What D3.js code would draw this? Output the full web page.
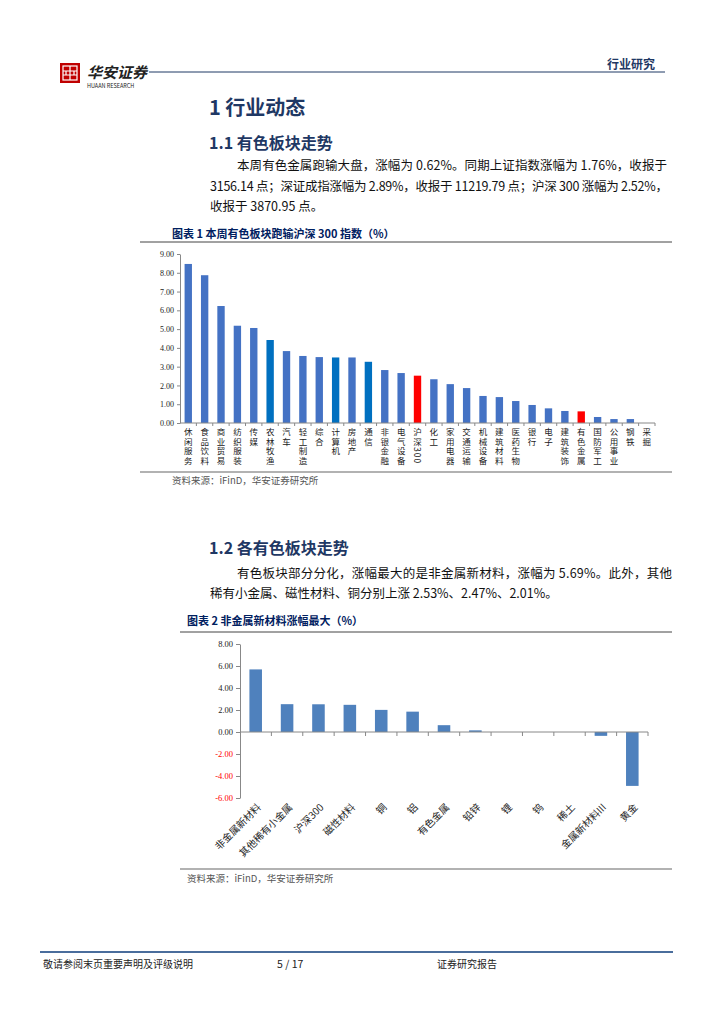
<!DOCTYPE html>
<html>
<head>
<meta charset="utf-8">
<script src="https://cdn.jsdelivr.net/npm/d3@7"></script>
<style>
  body { margin: 0; background: #fff; }
  svg { display: block; }
  text { font-family: "Noto Sans CJK SC", "Liberation Sans", sans-serif; }
  .num { font-family: "Liberation Serif", serif; }
  .vlabel { writing-mode: vertical-rl; letter-spacing: 1px; }
</style>
</head>
<body>
<div id="page"></div>
<script>
// chart 1: weekly change by industry (%)
var industries = ["休闲服务", "食品饮料", "商业贸易", "纺织服装", "传媒", "农林牧渔", "汽车", "轻工制造",
    "综合", "计算机", "房地产", "通信", "非银金融", "电气设备", "沪深300", "化工", "家用电器",
    "交通运输", "机械设备", "建筑材料", "医药生物", "银行", "电子", "建筑装饰", "有色金属",
    "国防军工", "公用事业", "钢铁", "采掘"]
var industryChange = [8.47, 7.87, 6.23, 5.18, 5.06, 4.42, 3.83, 3.57, 3.51, 3.49, 3.49, 3.26, 2.82,
    2.66, 2.52, 2.33, 2.07, 1.86, 1.44, 1.38, 1.17, 0.96, 0.78, 0.64, 0.62, 0.32, 0.21, 0.21, 0.00]
var darkBars = ["农林牧渔", "计算机", "通信"]
var redBars = ["沪深300", "有色金属"]
var ticks1 = [0, 1, 2, 3, 4, 5, 6, 7, 8, 9]

// chart 2: non-ferrous sub-sectors (%)
var subSectors = ["非金属新材料", "其他稀有小金属", "沪深300", "磁性材料", "铜", "铝", "有色金属",
    "铅锌", "锂", "钨", "稀土", "金属新材料III", "黄金"]
var subChange = [5.69, 2.53, 2.52, 2.47, 2.01, 1.85, 0.62, 0.15, 0.00, 0.00, 0.00, -0.35, -4.90]
var ticks2 = [8, 6, 4, 2, 0, -2, -4, -6]

var width = 724, height = 1024
var navy = "#1F3864"

var svg = d3.select("#page").append("svg")
    .attr("width", width)
    .attr("height", height)

// ---- header ----
var logo = svg.append("g").attr("transform", "translate(60,63)")
logo.append("rect").attr("width", 20).attr("height", 20).attr("fill", "#C00000")
logo.append("rect").attr("x", 3).attr("y", 3).attr("width", 14).attr("height", 14)
    .attr("fill", "none").attr("stroke", "#fff").attr("stroke-width", 1.2)
logo.append("path").attr("d", "M10,3V17M3,8H17M3,12H17M6,8V12M14,8V12")
    .attr("stroke", "#fff").attr("stroke-width", 1.2).attr("fill", "none")
svg.append("text").attr("x", 87).attr("y", 78).attr("font-size", 15).attr("font-weight", 700)
    .attr("fill", "#222").attr("font-style", "italic").text("华安证券")
svg.append("text").attr("x", 87).attr("y", 88).attr("font-size", 5.5)
    .attr("font-family", "Liberation Serif").attr("fill", "#222").text("HUAAN RESEARCH")
svg.append("line").attr("x1", 149).attr("x2", 665).attr("y1", 72).attr("y2", 72)
    .attr("stroke", navy).attr("stroke-width", 1)
svg.append("text").attr("x", 655).attr("y", 69).attr("text-anchor", "end")
    .attr("font-size", 12).attr("font-weight", 700).attr("fill", navy).text("行业研究")

// ---- headings & paragraphs ----
function heading(txt, y, size) {
    svg.append("text").attr("x", 209).attr("y", y).attr("font-size", size)
        .attr("font-weight", 700).attr("fill", navy).text(txt)
}
heading("1 行业动态", 115, 20)
heading("1.1 有色板块走势", 149, 16)
heading("1.2 各有色板块走势", 554, 16)

function para(txt, x, y, w) {
    var t = svg.append("text").attr("x", x).attr("y", y).attr("font-size", 12.5)
        .attr("fill", "#111").text(txt)
    if (w) t.attr("textLength", w).attr("lengthAdjust", "spacing")
}
para("本周有色金属跑输大盘，涨幅为 0.62%。同期上证指数涨幅为 1.76%，收报于", 237, 170, 430)
para("3156.14 点；深证成指涨幅为 2.89%，收报于 11219.79 点；沪深 300 涨幅为 2.52%，", 210, 191, 458)
para("收报于 3870.95 点。", 210, 211)
para("有色板块部分分化，涨幅最大的是非金属新材料，涨幅为 5.69%。此外，其他", 237, 578, 435)
para("稀有小金属、磁性材料、铜分别上涨 2.53%、2.47%、2.01%。", 210, 598)

// ---- chart 1 ----
svg.append("text").attr("x", 172).attr("y", 238).attr("font-size", 11).attr("font-weight", 700)
    .attr("fill", "#002060").text("图表 1 本周有色板块跑输沪深 300 指数（%）")
svg.append("line").attr("x1", 140).attr("x2", 672).attr("y1", 242).attr("y2", 242)
    .attr("stroke", "#444").attr("stroke-width", 1)

var x1 = d3.scaleBand().domain(industries).range([180, 655]).paddingInner(0.55).paddingOuter(0.28)
var y1 = d3.scaleLinear().domain([0, 9]).range([423, 254])

var g1 = svg.append("g")
g1.selectAll(".bar1").data(industries).enter().append("rect")
    .attr("class", "bar1")
    .attr("x", function (d) { return x1(d) })
    .attr("width", x1.bandwidth())
    .attr("y", function (d, i) { return y1(industryChange[i]) })
    .attr("height", function (d, i) { return y1(0) - y1(industryChange[i]) })
    .attr("fill", function (d) {
        if (redBars.indexOf(d) >= 0) return "#FF0000"
        if (darkBars.indexOf(d) >= 0) return "#0070C0"
        return "#4472C4"
    })

var yAxis1 = d3.axisLeft(y1).tickValues(ticks1).tickFormat(d3.format(".2f")).tickSize(3).tickSizeOuter(0)
g1.append("g").attr("transform", "translate(180,0)").call(yAxis1)
    .call(function (a) {
        a.select(".domain").attr("stroke", "#888")
        a.selectAll(".tick line").attr("stroke", "#888")
        a.selectAll(".tick text").attr("class", "num").attr("font-size", 8).attr("fill", "#222")
    })

// x axis line with ticks at band edges
g1.append("line").attr("x1", 180).attr("x2", 655).attr("y1", y1(0)).attr("y2", y1(0))
    .attr("stroke", "#888")
industries.forEach(function (d, i) {
    var bx = 180 + (i + 1) * ((655 - 180) / industries.length)
    g1.append("line").attr("x1", bx).attr("x2", bx).attr("y1", y1(0)).attr("y2", y1(0) + 3)
        .attr("stroke", "#888")
})

// vertical labels
g1.selectAll(".vlabel").data(industries).enter().append("text")
    .attr("class", "vlabel")
    .attr("x", function (d) { return x1(d) + x1.bandwidth() / 2 })
    .attr("y", 428)
    .attr("font-size", 8.5)
    .attr("fill", "#222")
    .text(function (d) { return d })

svg.append("line").attr("x1", 140).attr("x2", 672).attr("y1", 472).attr("y2", 472)
    .attr("stroke", "#999").attr("stroke-width", 1.5)
svg.append("text").attr("x", 172).attr("y", 484).attr("font-size", 9.5).attr("fill", "#555")
    .text("资料来源：iFinD，华安证券研究所")

// ---- chart 2 ----
svg.append("text").attr("x", 187).attr("y", 625).attr("font-size", 11).attr("font-weight", 700)
    .attr("fill", "#002060").text("图表 2 非金属新材料涨幅最大（%）")
svg.append("line").attr("x1", 180).attr("x2", 672).attr("y1", 632).attr("y2", 632)
    .attr("stroke", "#444").attr("stroke-width", 1)

var x2 = d3.scaleBand().domain(subSectors).range([240, 648]).paddingInner(0.6).paddingOuter(0.3)
var y2 = d3.scaleLinear().domain([-6, 8]).range([798, 644])

var g2 = svg.append("g")
g2.selectAll(".bar2").data(subSectors).enter().append("rect")
    .attr("class", "bar2")
    .attr("x", function (d) { return x2(d) })
    .attr("width", x2.bandwidth())
    .attr("y", function (d, i) { return y2(Math.max(0, subChange[i])) })
    .attr("height", function (d, i) { return Math.abs(y2(subChange[i]) - y2(0)) })
    .attr("fill", "#4F81BD")

var yAxis2 = d3.axisLeft(y2).tickValues(ticks2).tickFormat(d3.format(".2f")).tickSize(4).tickSizeOuter(0)
g2.append("g").attr("transform", "translate(240,0)").call(yAxis2)
    .call(function (a) {
        a.select(".domain").attr("stroke", "#888")
        a.selectAll(".tick line").attr("stroke", "#888")
        a.selectAll(".tick text").attr("class", "num").attr("font-size", 8.5)
            .attr("fill", function (d) { return d < 0 ? "#FF0000" : "#222" })
            .text(function (d) { return d3.format(".2f")(d).replace("−", "-") })
    })

g2.append("line").attr("x1", 240).attr("x2", 648).attr("y1", y2(0)).attr("y2", y2(0))
    .attr("stroke", "#888")
subSectors.forEach(function (d, i) {
    var bx = 240 + (i + 1) * ((648 - 240) / subSectors.length)
    g2.append("line").attr("x1", bx).attr("x2", bx).attr("y1", y2(0)).attr("y2", y2(0) + 4)
        .attr("stroke", "#888")
})

subSectors.forEach(function (d) {
    var cx = x2(d) + x2.bandwidth() / 2
    g2.append("text")
        .attr("transform", "translate(" + (cx + 6) + ",808) rotate(-45)")
        .attr("text-anchor", "end")
        .attr("font-size", 10).attr("fill", "#222").text(d)
})

svg.append("line").attr("x1", 180).attr("x2", 672).attr("y1", 869).attr("y2", 869)
    .attr("stroke", "#999").attr("stroke-width", 1.5)
svg.append("text").attr("x", 187).attr("y", 882).attr("font-size", 9.5).attr("fill", "#555")
    .text("资料来源：iFinD，华安证券研究所")

// ---- footer ----
svg.append("line").attr("x1", 40).attr("x2", 673).attr("y1", 952).attr("y2", 952)
    .attr("stroke", "#4A6D9C").attr("stroke-width", 2)
svg.append("text").attr("x", 43).attr("y", 968).attr("font-size", 10).attr("fill", "#222")
    .text("敬请参阅末页重要声明及评级说明")
svg.append("text").attr("x", 277).attr("y", 968).attr("font-size", 10.5)
    .attr("font-family", "Liberation Sans").attr("fill", "#222").text("5 / 17")
svg.append("text").attr("x", 437).attr("y", 968).attr("font-size", 10).attr("fill", "#222")
    .text("证券研究报告")
</script>
</body>
</html>
